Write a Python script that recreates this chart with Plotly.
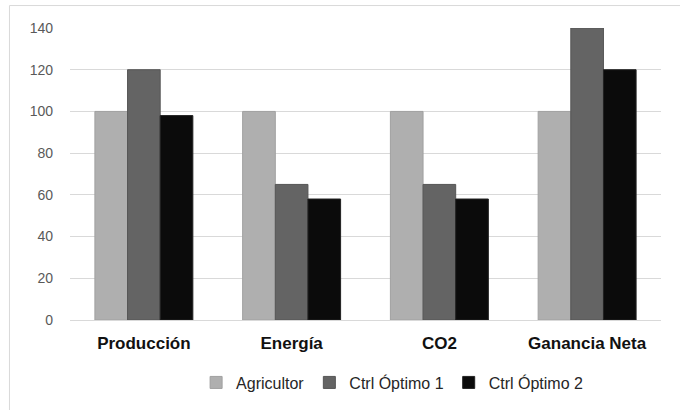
import plotly.graph_objects as go

categories = ["Producción", "Energía", "CO2", "Ganancia Neta"]
agricultor = [100, 100, 100, 100]
ctrl_optimo_1 = [120, 65, 65, 140]
ctrl_optimo_2 = [98, 58, 58, 120]
y_ticks = [0, 20, 40, 60, 80, 100, 120, 140]

series = [
    ("Agricultor", agricultor, "#afafaf", "#a0a0a0"),
    ("Ctrl Óptimo 1", ctrl_optimo_1, "#646464", "#565656"),
    ("Ctrl Óptimo 2", ctrl_optimo_2, "#0b0b0b", "#222222"),
]

fig = go.Figure()
for name, vals, fill, edge in series:
    fig.add_trace(go.Bar(
        x=categories, y=vals, name=name,
        marker=dict(color=fill, line=dict(color=edge, width=1)),
    ))

fig.update_layout(
    width=680, height=410,
    margin=dict(l=70, r=19, t=28, b=89),
    paper_bgcolor="white", plot_bgcolor="white",
    barmode="group", bargap=0.337, bargroupgap=0,
    font=dict(family="Liberation Sans, Arial, sans-serif", color="#595959"),
    showlegend=True,
    legend=dict(
        orientation="h", x=0.545, xanchor="center", y=-0.21, yanchor="middle",
        font=dict(size=16, color="#262626"), itemwidth=30,
        traceorder="normal",
    ),
    xaxis=dict(
        categoryorder="array", categoryarray=categories,
        showgrid=False, showline=False, ticks="", ticklabelstandoff=11,
        tickfont=dict(size=17, color="#111111", family="Liberation Sans, Arial, sans-serif", weight="bold"),
    ),
    yaxis=dict(
        range=[0, 140], tickvals=y_ticks,
        showgrid=True, gridcolor="#d9d9d9", gridwidth=1,
        zeroline=True, zerolinecolor="#d9d9d9", zerolinewidth=1,
        showline=False, ticks="", ticklabelstandoff=16,
        tickfont=dict(size=14, color="#595959"),
    ),
)

# light frame around the chart area
fig.add_shape(
    type="rect", xref="paper", yref="paper",
    x0=-0.1024, x1=1.05, y0=-0.5, y1=1.0769,
    line=dict(color="#d9d9d9", width=1), fillcolor="rgba(0,0,0,0)",
    layer="below",
)

fig.write_html("out.html")
